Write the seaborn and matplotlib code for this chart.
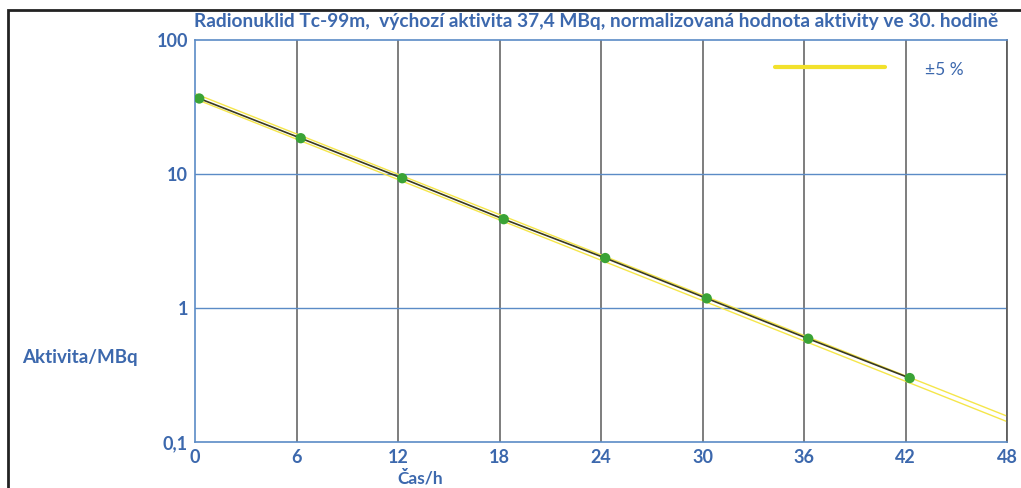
import matplotlib
import matplotlib.pyplot as plt
import pandas as pd
import seaborn as sns
from matplotlib.patches import Rectangle
from matplotlib.ticker import FixedLocator, FixedFormatter, NullLocator

matplotlib.use("Agg")

# measured points (time in hours, activity in MBq)
TIME_H = [0.25, 6.25, 12.25, 18.25, 24.25, 30.25, 36.25, 42.25]
ACTIVITY = [36.6, 18.5, 9.3, 4.6, 2.36, 1.18, 0.59, 0.30]

# +-5 % band, end points
BAND_T = [0, 48]
BAND_UPPER = [39.8, 0.156]
BAND_LOWER = [36.4, 0.142]

X_TICKS = [0, 6, 12, 18, 24, 30, 36, 42, 48]
Y_TICKS = [0.1, 1, 10, 100]
Y_LABELS = ["0,1", "1", "10", "100"]

TITLE = ("Radionuklid Tc-99m,  výchozí aktivita 37,4 MBq, "
         "normalizovaná hodnota aktivity ve 30. hodině")

BLUE = "#3c68ad"
GRID_BLUE = "#5b8bc6"
GRID_GREY = "#5a5a5a"
YELLOW = "#f5e64a"
GREEN = "#3aa336"
DARK = "#3a3a22"

sns.set_theme(style="white")
plt.rcParams["font.family"] = ["Lato", "DejaVu Sans"]

points = pd.DataFrame({"t": TIME_H, "a": ACTIVITY})
band = pd.DataFrame({"t": BAND_T * 2,
                     "a": BAND_UPPER + BAND_LOWER,
                     "edge": ["upper"] * 2 + ["lower"] * 2})

fig = plt.figure(figsize=(10.21, 4.88), dpi=100)
ax = fig.add_axes([195 / 1021, 1 - 442 / 488, (1007 - 195) / 1021, (442 - 40) / 488])

sns.lineplot(data=band, x="t", y="a", units="edge", estimator=None,
             color=YELLOW, linewidth=1.0, ax=ax, zorder=2)
sns.lineplot(data=points, x="t", y="a", color=DARK, linewidth=1.2, ax=ax, zorder=3)
sns.scatterplot(data=points, x="t", y="a", color=GREEN, s=55, edgecolor="none",
                ax=ax, zorder=4)

ax.set_yscale("log")
ax.set_xlim(0, 48)
ax.set_ylim(0.1, 100)

ax.xaxis.set_major_locator(FixedLocator(X_TICKS))
ax.yaxis.set_major_locator(FixedLocator(Y_TICKS))
ax.yaxis.set_major_formatter(FixedFormatter(Y_LABELS))
ax.yaxis.set_minor_locator(NullLocator())

for x in X_TICKS[1:]:
    ax.axvline(x, color=GRID_GREY, linewidth=1.1, zorder=1)
for y in [1, 10]:
    ax.axhline(y, color=GRID_BLUE, linewidth=1.0, zorder=1)

for side in ["left", "bottom", "top"]:
    ax.spines[side].set_color(GRID_BLUE)
    ax.spines[side].set_linewidth(1.2)
ax.spines["right"].set_color(GRID_GREY)

ax.tick_params(axis="both", colors=BLUE, labelsize=13, length=3, width=1,
               direction="out", pad=2)
ax.tick_params(axis="x", length=4, pad=1)
for lab in ax.get_xticklabels() + ax.get_yticklabels():
    lab.set_fontweight("bold")
    lab.set_color(BLUE)

ax.set_xlabel("")
ax.set_ylabel("")

fig.text(596 / 1021, 1 - 22 / 488, TITLE, ha="center", va="center",
         color=BLUE, fontsize=13.8, fontweight="bold")
fig.text(22 / 1021, 1 - 358 / 488, "Aktivita/MBq", ha="left", va="center",
         color=BLUE, fontsize=13.5, fontweight="bold")
fig.text(420 / 1021, 1 - 478 / 488, "Čas/h", ha="center", va="center",
         color=BLUE, fontsize=12.5, fontweight="bold")

# legend
ax.plot([775 / 1021, 885 / 1021], [1 - 67 / 488, 1 - 67 / 488],
        transform=fig.transFigure, color="#f2e12c", linewidth=3, clip_on=False)
fig.text(925 / 1021, 1 - 70 / 488, "±5 %", ha="left", va="center",
         color=BLUE, fontsize=12.5)

# outer frame
fig.patches.append(Rectangle((8 / 1021, -0.1), 1.2, 1 - 10 / 488 + 0.1,
                             transform=fig.transFigure, fill=False,
                             edgecolor="#222222", linewidth=2))

fig.savefig("out.png", dpi=100)
